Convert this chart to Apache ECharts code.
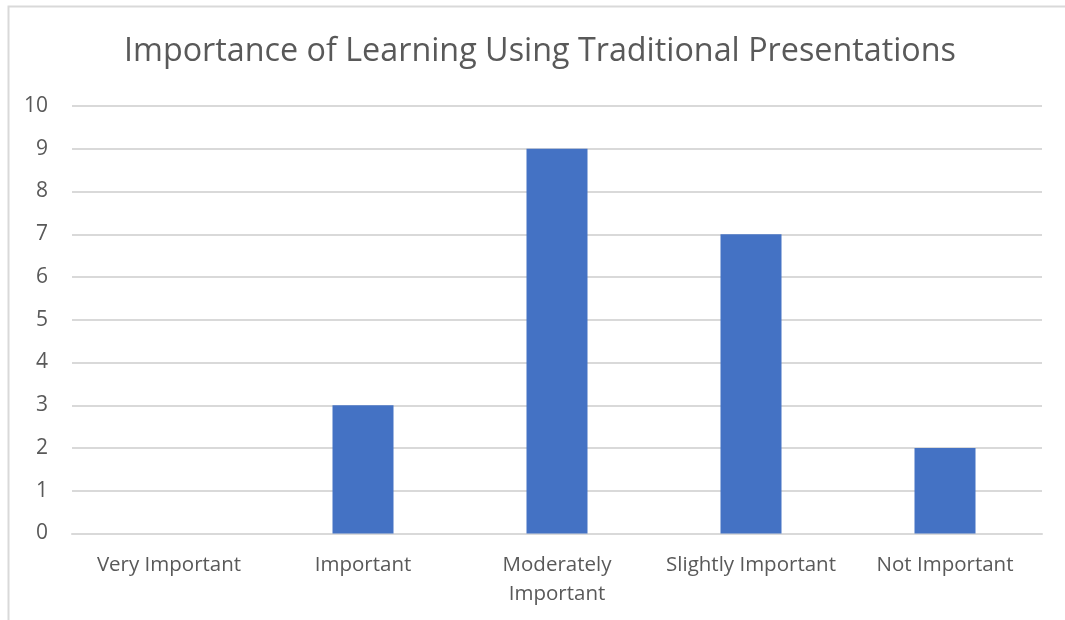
<!DOCTYPE html>
<html>
<head>
<meta charset="utf-8">
<script src="https://cdn.jsdelivr.net/npm/echarts@6/dist/echarts.min.js"></script>
<style>
  html, body { margin: 0; padding: 0; background: #fff; }
  #chart { width: 1065px; height: 620px; }
</style>
</head>
<body>
<div id="chart"></div>
<script>
const titleText = 'Importance of Learning Using Traditional Presentations';
const categories = ['Very Important', 'Important', 'Moderately\nImportant', 'Slightly Important', 'Not Important'];
const counts = [0, 3, 9, 7, 2];
const yTicks = [0, 1, 2, 3, 4, 5, 6, 7, 8, 9, 10];

const textColor = '#595959';
const fontFamily = 'Open Sans, Noto Sans, sans-serif';

const chart = echarts.init(document.getElementById('chart'), null, { renderer: 'canvas' });
chart.setOption({
  backgroundColor: '#ffffff',
  animation: false,
  graphic: [{
    type: 'rect',
    shape: { x: 8.5, y: 6.5, width: 1200, height: 800 },
    style: { fill: 'none', stroke: '#d9d9d9', lineWidth: 2 },
    silent: true
  }],
  title: {
    text: titleText,
    left: 119,
    top: 31,
    textStyle: { color: textColor, fontSize: 32.3, fontWeight: 'normal', fontFamily: fontFamily }
  },
  grid: { left: 72, right: 23, top: 106, bottom: 86.5, containLabel: false },
  xAxis: {
    type: 'category',
    data: categories,
    axisLine: { show: true, lineStyle: { color: '#d9d9d9', width: 2 } },
    axisTick: { show: false },
    axisLabel: { color: textColor, fontSize: 20.5, fontFamily: fontFamily, margin: 17, lineHeight: 29, interval: 0 }
  },
  yAxis: {
    type: 'value',
    min: yTicks[0],
    max: yTicks[yTicks.length - 1],
    interval: 1,
    axisLine: { show: false },
    axisTick: { show: false },
    splitLine: { lineStyle: { color: '#d9d9d9', width: 2 } },
    axisLabel: { color: textColor, fontSize: 21, fontFamily: fontFamily, margin: 24 }
  },
  series: [{
    type: 'bar',
    data: counts,
    barWidth: 61,
    itemStyle: { color: '#4472C4' }
  }]
});
</script>
</body>
</html>
